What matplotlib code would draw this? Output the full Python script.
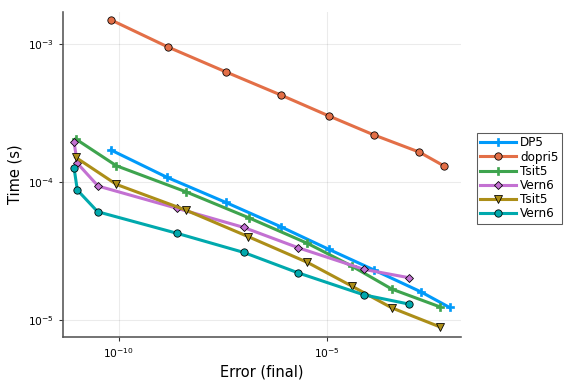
import numpy as np
import matplotlib
matplotlib.use("Agg")
import matplotlib.pyplot as plt

# log10 values
dp5_err = [-10.19, -8.84, -7.43, -6.10, -4.94, -3.85, -2.73, -2.04]
dp5_time = [-3.768, -3.966, -4.147, -4.324, -4.488, -4.638, -4.795, -4.908]

dopri5_err = [-10.19, -8.82, -7.42, -6.10, -4.94, -3.86, -2.77, -2.17]
dopri5_time = [-2.826, -3.022, -3.203, -3.370, -3.522, -3.659, -3.783, -3.884]

tsit5_err = [-11.04, -10.06, -8.39, -6.87, -5.46, -4.39, -3.43, -2.27]
tsit5_time = [-3.688, -3.882, -4.070, -4.259, -4.444, -4.609, -4.775, -4.904]

vern6_err = [-11.08, -11.00, -10.50, -8.59, -7.00, -5.68, -4.09, -3.01]
vern6_time = [-3.710, -3.864, -4.029, -4.191, -4.328, -4.476, -4.633, -4.693]

tsit5b_err = [-11.04, -10.06, -8.39, -6.88, -5.46, -4.39, -3.43, -2.27]
tsit5b_time = [-3.821, -4.017, -4.203, -4.396, -4.582, -4.754, -4.911, -5.049]

vern6b_err = [-11.08, -11.00, -10.51, -8.59, -7.00, -5.69, -4.10, -3.01]
vern6b_time = [-3.896, -4.058, -4.215, -4.372, -4.509, -4.657, -4.817, -4.884]

series = [
    ("DP5", dp5_err, dp5_time, "#009AFA", "P"),
    ("dopri5", dopri5_err, dopri5_time, "#E36F47", "o"),
    ("Tsit5", tsit5_err, tsit5_time, "#3EA44E", "P"),
    ("Vern6", vern6_err, vern6_time, "#C371D2", "D"),
    ("Tsit5", tsit5b_err, tsit5b_time, "#AC8E18", "v"),
    ("Vern6", vern6b_err, vern6b_time, "#00A9AD", "o"),
]

fig = plt.figure(figsize=(6, 4), dpi=96)
ax = fig.add_axes([0.109, 0.122, 0.691, 0.847])

for name, e, t, c, m in series:
    x = 10.0 ** np.array(e)
    y = 10.0 ** np.array(t)
    if m == "P":
        ax.plot(x, y, color=c, lw=2.3, marker=m, ms=6.5, mec=c, mew=0.5, label=name)
    else:
        ms = {"o": 5.5, "D": 4.2, "v": 6}[m]
        ax.plot(x, y, color=c, lw=2.3, marker=m, ms=ms, mec="black", mew=0.6, label=name)

ax.set_xscale("log")
ax.set_yscale("log")
ax.set_xlim(10 ** -11.35, 10 ** -1.77)
ax.set_ylim(10 ** -5.123, 10 ** -2.768)
ax.set_xticks([1e-10, 1e-5])
ax.set_yticks([1e-5, 1e-4, 1e-3])
ax.minorticks_off()
ax.tick_params(labelsize=8, length=3, width=0.8, color="#333333")
ax.grid(True, color="black", alpha=0.08, lw=0.8)
for s in ["top", "right"]:
    ax.spines[s].set_visible(False)
for s in ["left", "bottom"]:
    ax.spines[s].set_color("#555555")
    ax.spines[s].set_linewidth(1.2)

ax.set_xlabel("Error (final)", fontsize=11)
ax.set_ylabel("Time (s)", fontsize=11)

leg = ax.legend(loc="center left", bbox_to_anchor=(1.04, 0.488), fontsize=9,
                frameon=True, fancybox=False, edgecolor="#333333",
                handlelength=3.0, borderpad=0.3, labelspacing=0.1,
                handletextpad=0.3, borderaxespad=0.0)
leg.get_frame().set_linewidth(0.8)

fig.savefig("out.png", dpi=96)
